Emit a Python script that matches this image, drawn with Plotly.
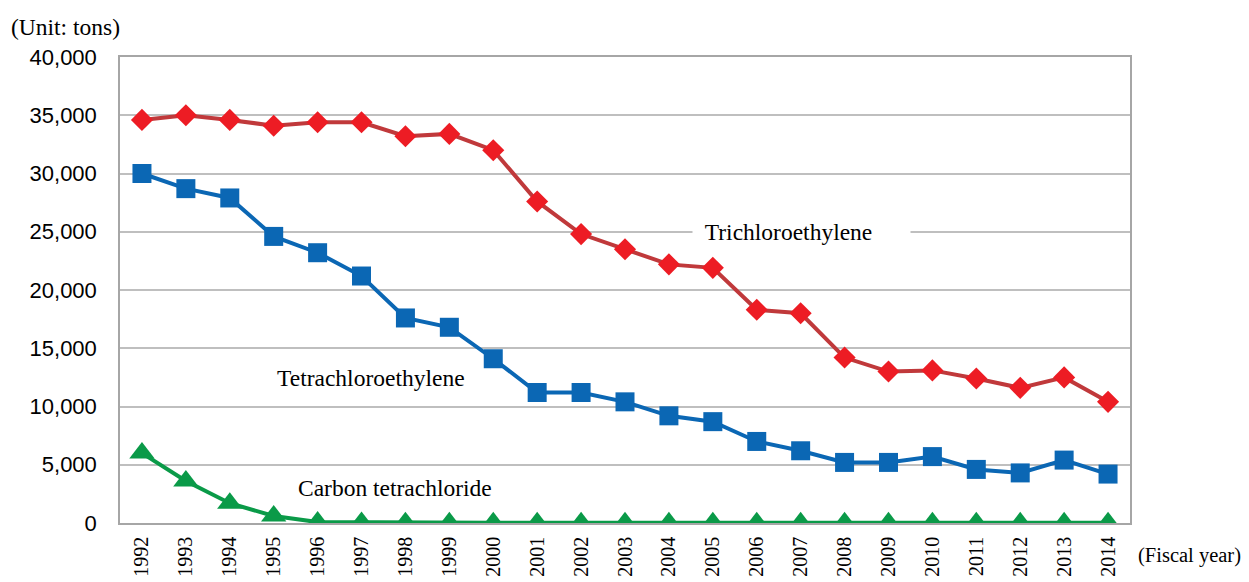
import plotly.graph_objects as go

years = [str(y) for y in range(1992, 2015)]
trichloro = [34600, 35000, 34600, 34100, 34400, 34400, 33200, 33400, 32000, 27600, 24800, 23500,
             22200, 21900, 18300, 18000, 14200, 13000, 13100, 12400, 11600, 12500, 10400]
tetrachloro = [30000, 28700, 27900, 24600, 23200, 21200, 17600, 16800, 14100, 11200, 11200, 10400,
               9200, 8700, 7000, 6200, 5200, 5200, 5700, 4600, 4300, 5400, 4200]
carbon_tet = [6000, 3600, 1700, 600, 80, 50, 30, 20, 20, 20, 20, 20,
              20, 20, 20, 20, 20, 20, 20, 20, 20, 20, 20]
y_ticks = [0, 5000, 10000, 15000, 20000, 25000, 30000, 35000, 40000]

fig = go.Figure()
fig.add_trace(go.Scatter(x=years, y=trichloro, mode="lines+markers", name="Trichloroethylene",
                         line=dict(color="#c0393b", width=4),
                         marker=dict(symbol="diamond", size=17, color="#ed1c24")))
fig.add_trace(go.Scatter(x=years, y=tetrachloro, mode="lines+markers", name="Tetrachloroethylene",
                         line=dict(color="#0b67b4", width=4),
                         marker=dict(symbol="square", size=19, color="#0b67b4")))
fig.add_trace(go.Scatter(x=years, y=carbon_tet, mode="lines+markers", name="Carbon tetrachloride",
                         line=dict(color="#0a9a48", width=4),
                         marker=dict(symbol="triangle-up", size=22, color="#0a9a48")))

serif = "Liberation Serif, Times New Roman, serif"
fig.add_annotation(x=years.index("2006"), y=25000, text="&nbsp;&nbsp;Trichloroethylene", showarrow=False,
                   xref="x", yref="y", bgcolor="white", width=217, height=26, align="left",
                   borderpad=0, font=dict(family=serif, size=23.5, color="black"), xshift=45)
fig.add_annotation(x=years.index("1997"), y=12450, text="Tetrachloroethylene", showarrow=False,
                   xref="x", yref="y", font=dict(family=serif, size=23.5, color="black"), xshift=9)
fig.add_annotation(x=years.index("1997"), y=3000, text="Carbon tetrachloride", showarrow=False,
                   xref="x", yref="y", font=dict(family=serif, size=23.5, color="black"), xshift=33)
fig.add_annotation(x=0, y=1, xref="paper", yref="paper", xshift=-111, yshift=30,
                   xanchor="left", yanchor="middle",
                   text="(Unit: tons)", showarrow=False, font=dict(family=serif, size=23.5, color="black"))
fig.add_annotation(x=1, y=0, xref="paper", yref="paper", xshift=6, yshift=-32,
                   xanchor="left", yanchor="middle",
                   text="(Fiscal year)", showarrow=False, font=dict(family=serif, size=20.5, color="black"))

fig.update_layout(
    width=1241, height=574,
    margin=dict(l=112, r=119, t=49, b=59, autoexpand=False),
    plot_bgcolor="white", paper_bgcolor="white",
    showlegend=False,
    xaxis=dict(type="category", tickangle=-90, tickfont=dict(family=serif, size=20, color="black"),
               showgrid=False, showline=True, linecolor="#a6a6a6", linewidth=1.5, mirror=True, ticks="",
               range=[-0.5, 22.5], ticklabelstandoff=4, automargin=False),
    yaxis=dict(range=[0, 40000], tickvals=y_ticks, tickformat=",d",
               tickfont=dict(family="Liberation Sans, Arial, sans-serif", size=22, color="black"),
               showgrid=True, gridcolor="#bfbfbf", gridwidth=1.5,
               showline=True, linecolor="#a6a6a6", linewidth=1.5, mirror=True, zeroline=False,
               ticks="", ticklabelstandoff=17, automargin=False),
)
fig.write_html("out.html")
